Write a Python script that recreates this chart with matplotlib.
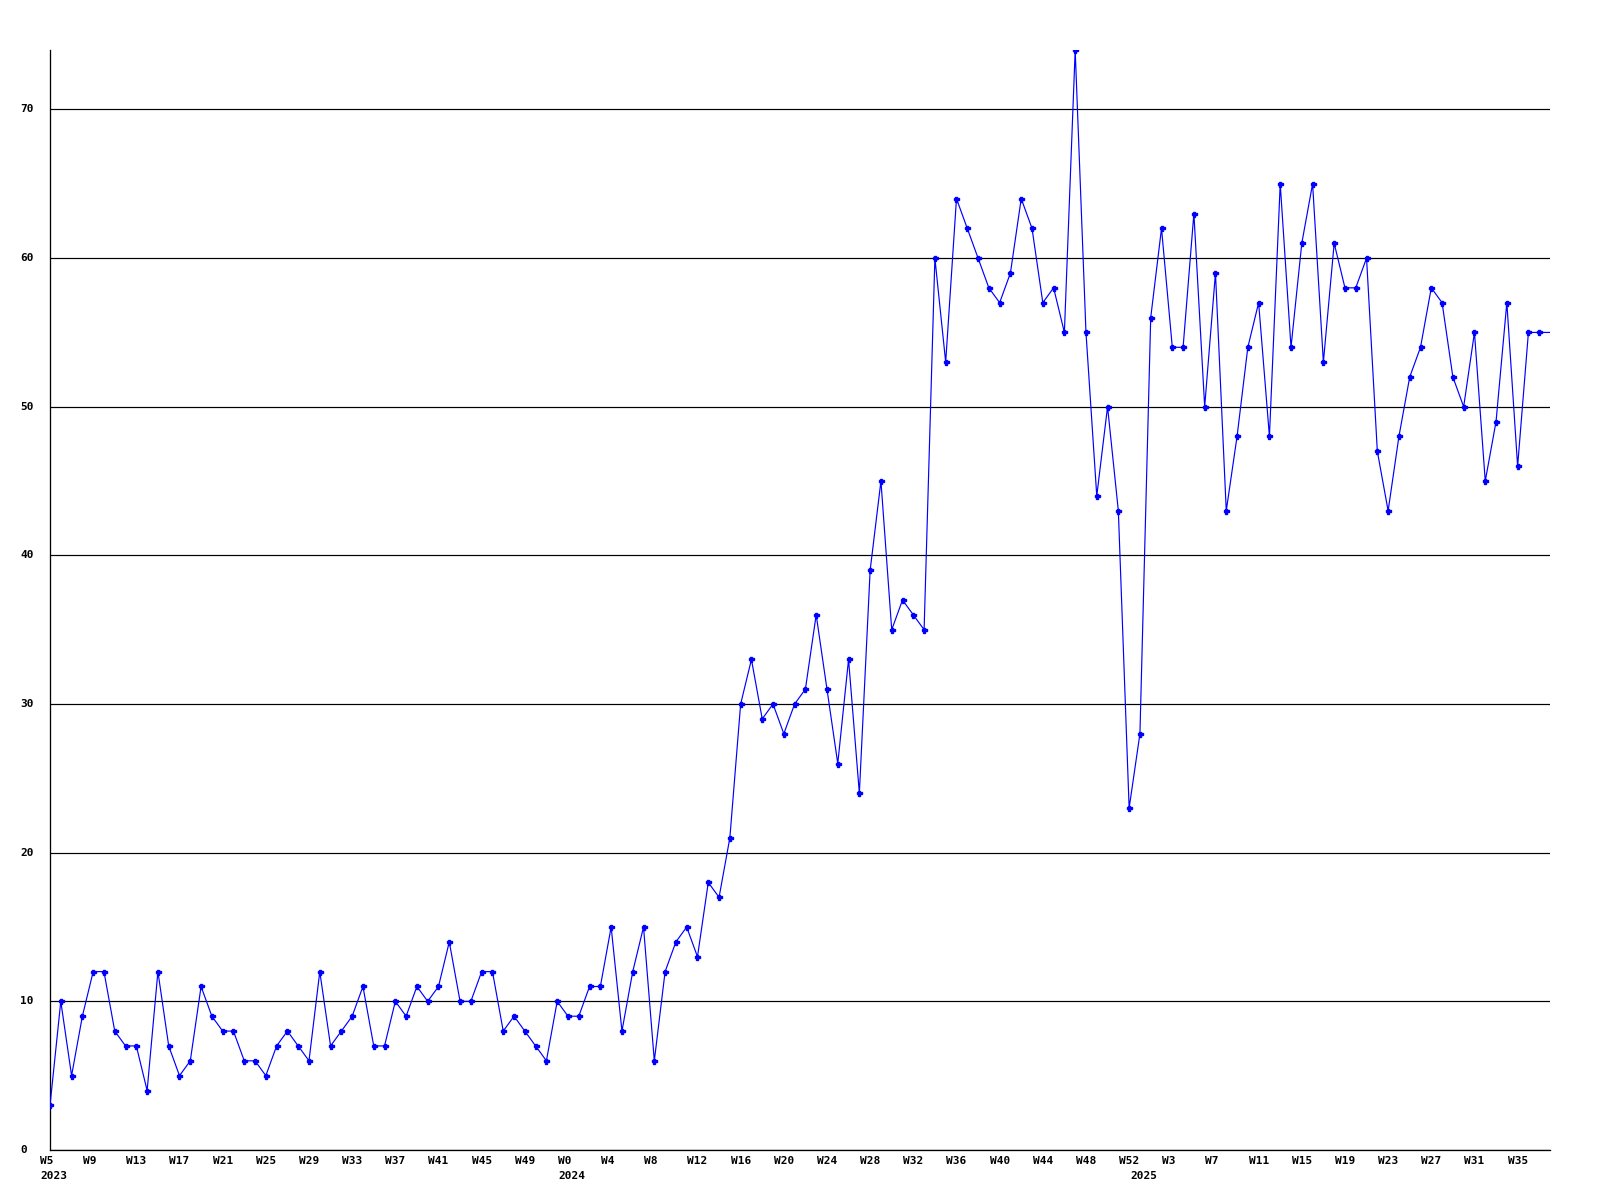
import matplotlib
matplotlib.use("Agg")
import matplotlib.pyplot as plt
from matplotlib.transforms import ScaledTranslation

# weekly counts
weeks_2023 = list(range(5, 53))
vals_2023 = [3, 10, 5, 9, 12, 12, 8, 7, 7, 4, 12, 7, 5, 6, 11, 9, 8, 8, 6, 6,
             5, 7, 8, 7, 6, 12, 7, 8, 9, 11, 7, 7, 10, 9, 11, 10, 11, 14, 10, 10,
             12, 12, 8, 9, 8, 7, 6, 10]

weeks_2024 = list(range(0, 53))
vals_2024 = [9, 9, 11, 11, 15, 8, 12, 15, 6, 12, 14, 15, 13, 18, 17, 21,
             30, 33, 29, 30, 28, 30, 31, 36, 31, 26, 33, 24, 39, 45, 35, 37, 36, 35,
             60, 53, 64, 62, 60, 58, 57, 59, 64, 62, 57, 58, 55, 74, 55, 44, 50, 43, 23]

weeks_2025 = list(range(0, 39))
vals_2025 = [28, 56, 62, 54, 54, 63, 50, 59, 43, 48, 54, 57, 48, 65, 54, 61,
             65, 53, 61, 58, 58, 60, 47, 43, 48, 52, 54, 58, 57, 52, 50, 55,
             45, 49, 57, 46, 55, 55, 55]

years = [("2023", weeks_2023, vals_2023),
         ("2024", weeks_2024, vals_2024),
         ("2025", weeks_2025, vals_2025)]

y_ticks = [0, 10, 20, 30, 40, 50, 60, 70]

labels = []
values = []
year_starts = []
for year, wk, vals in years:
    year_starts.append((len(labels), year))
    labels += [f"W{w}" for w in wk]
    values += vals
x = list(range(len(values)))

fig = plt.figure(figsize=(16, 12), dpi=100)
ax = fig.add_axes([50 / 1600, 50 / 1200, 1500 / 1600, 1100 / 1200])

px = 0.72  # one pixel in points
ax.plot(x, values, color="#0000ff", lw=0.85, marker="P", ms=3.6,
        markevery=list(range(len(values) - 1)), zorder=3)

ax.set_xlim(0, len(values) - 1)
ax.set_ylim(0, 74)

for side in ["top", "right"]:
    ax.spines[side].set_visible(False)
for side in ["left", "bottom"]:
    ax.spines[side].set_color("black")
    ax.spines[side].set_linewidth(1.3 * px)

ax.set_yticks(y_ticks)
ax.set_xticks([])
ax.tick_params(axis="y", length=0, labelleft=False)
ax.yaxis.grid(True, color="black", lw=1.2 * px)
ax.set_axisbelow(True)

font = dict(family="DejaVu Sans Mono", weight="bold", size=8)

ytr = ax.get_yaxis_transform() + ScaledTranslation(-0.30, 0, fig.dpi_scale_trans)
for v in y_ticks:
    ax.text(0, v, str(v), transform=ytr, ha="left", va="center", **font)

xtr = ax.get_xaxis_transform() + ScaledTranslation(-0.10, -0.06, fig.dpi_scale_trans)
for i in x[::4]:
    ax.text(i, 0, labels[i], transform=xtr, ha="left", va="top", **font)

ytr2 = ax.get_xaxis_transform() + ScaledTranslation(-0.10, -0.21, fig.dpi_scale_trans)
for i, year in year_starts:
    ax.text(i, 0, year, transform=ytr2, ha="left", va="top", **font)

fig.savefig("out.png", dpi=100)
